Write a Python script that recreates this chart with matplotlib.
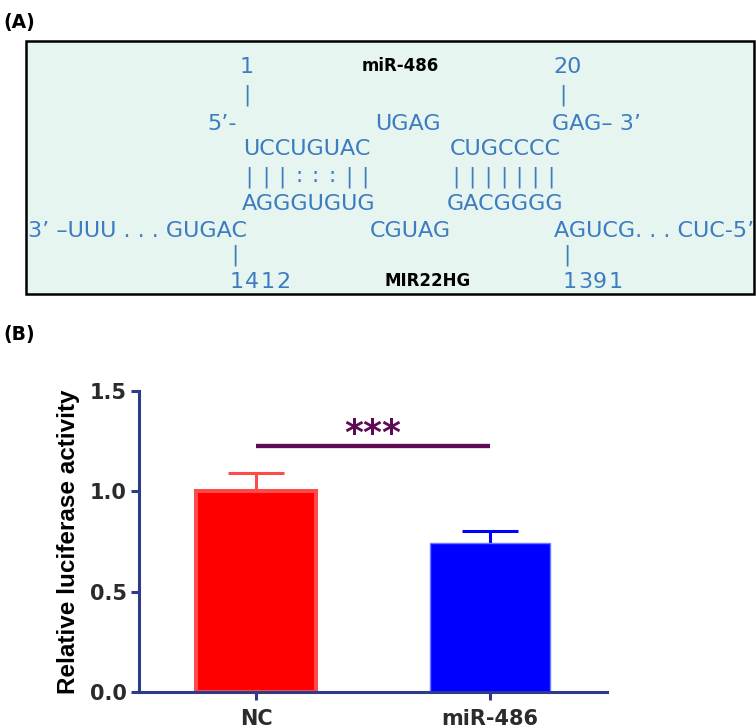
import matplotlib
matplotlib.use("Agg")
import matplotlib.pyplot as plt
from matplotlib.patches import Rectangle

# ---------------- data ----------------
categories = ["NC", "miR-486"]
values = [1.0, 0.745]
errors = [0.09, 0.055]
bar_colors = ["#ff0000", "#0000ff"]
edge_colors = ["#ff4a4a", "#6a78ff"]
yticks = [0.0, 0.5, 1.0, 1.5]
ytick_labels = ["0.0", "0.5", "1.0", "1.5"]
ylabel = "Relative luciferase activity"
sig_label = "***"
sig_y = 1.225

# panel A texts: (text, x_center_px, y_center_px)
mirna_top = [("1", 247, 65), ("20", 567.5, 65),
             ("5\u2019-", 222.5, 122), ("UGAG", 408, 122), ("GAG\u2013 3\u2019", 596, 122),
             ("UCCUGUAC", 307, 147), ("CUGCCCC", 505.5, 147),
             ("AGGGUGUG", 308.5, 202), ("GACGGGG", 505, 202),
             ("3\u2019 \u2013UUU . . . GUGAC", 137.5, 229), ("CGUAG", 410, 229),
             ("AGUCG. . . CUC-5\u2019", 654, 229)]
# spaced digit labels: (text, left_px, step_px, y_center_px)
spaced = [("1412", 229, 15.5, 280), ("1391", 562, 15.25, 280)]
black_labels = [("miR-486", 400.5, 65), ("MIR22HG", 427.5, 280)]
connectors = [(247, 94), (563, 94), (235, 255), (567, 255)]
pairs1 = "|||:::||"
pairs2 = "|||||||"

W, H = 756, 728
fig = plt.figure(figsize=(W / 100, H / 100), dpi=100)

blue = "#3d7cc0"
# ---------------- panel A ----------------
axA = fig.add_axes([0, 0, 1, 1])
axA.set_xlim(0, W)
axA.set_ylim(H, 0)
axA.axis("off")
axA.add_patch(Rectangle((26, 41), 728, 253, facecolor="#e6f5f0",
                        edgecolor="black", linewidth=1.8))
for t, x, y in mirna_top:
    axA.text(x, y + 8, t, ha="center", va="baseline", fontsize=16,
             color=blue, family="DejaVu Sans")
for t, x0, step, y in spaced:
    for i, ch in enumerate(t):
        axA.text(x0 + step * (i + 0.5), y + 8, ch, ha="center", va="baseline",
                 fontsize=16, color=blue, family="DejaVu Sans")
for t, x, y in black_labels:
    axA.text(x, y + 6, t, ha="center", va="baseline", fontsize=12,
             color="black", fontweight="bold", family="DejaVu Sans")
for x, y in connectors:
    axA.text(x, y + 6, "|", ha="center", va="baseline", fontsize=15.5,
             color=blue, family="DejaVu Sans")
for i, ch in enumerate(pairs1):
    axA.text(249 + i * 16.6, 176 + 6, ch, ha="center", va="baseline",
             fontsize=15.5, color=blue, family="DejaVu Sans")
for i, ch in enumerate(pairs2):
    axA.text(456 + i * 15.8, 176 + 6, ch, ha="center", va="baseline",
             fontsize=15.5, color=blue, family="DejaVu Sans")
axA.text(3, 28, "(A)", ha="left", va="baseline", fontsize=13.5,
         fontweight="bold", family="DejaVu Sans")
axA.text(3, 340, "(B)", ha="left", va="baseline", fontsize=13.5,
         fontweight="bold", family="DejaVu Sans")

# ---------------- panel B ----------------
navy = "#2e3b8c"
ax = fig.add_axes([139 / W, 1 - 692 / H, 468 / W, 301 / H])
ax.patch.set_alpha(0)
x = list(range(len(categories)))
lws = [2.9, 1.0]
for i in x:
    ax.bar(i, values[i], width=0.51, color=bar_colors[i],
           edgecolor=edge_colors[i], linewidth=lws[i], zorder=2)
    ecol = edge_colors[i] if i == 0 else bar_colors[i]
    ax.errorbar(i, values[i], yerr=[[0.02], [errors[i]]], fmt="none",
                ecolor=ecol, elinewidth=2.2, capsize=20.5, capthick=2.2,
                zorder=1)

ax.plot([0, 1], [sig_y, sig_y], color="#5e0a55", linewidth=3.1,
        solid_capstyle="butt")
ax.text(0.5, 1.285, sig_label, ha="center", va="center", fontsize=26,
        fontweight="bold", color="#5e0a55", family="DejaVu Sans")

ax.set_xlim(-0.5, 1.5)
ax.set_ylim(0, 1.5)
ax.set_yticks(yticks)
ax.set_yticklabels(ytick_labels)
ax.set_xticks(x)
ax.set_xticklabels(categories)
for s in ["top", "right"]:
    ax.spines[s].set_visible(False)
for s in ["left", "bottom"]:
    ax.spines[s].set_color(navy)
    ax.spines[s].set_linewidth(2.2)
    ax.spines[s].set_zorder(3)
ax.tick_params(axis="both", colors=navy, width=2.2, length=5.8,
               labelcolor="#2b2b2b")
ax.tick_params(axis="y", pad=3)
ax.tick_params(axis="x", pad=6.5)
for lab in ax.get_yticklabels() + ax.get_xticklabels():
    lab.set_fontweight("bold")
    lab.set_fontsize(15)
    lab.set_family("DejaVu Sans")
ax.set_ylabel(ylabel, fontsize=17.5, fontweight="bold", color="black",
              family="Liberation Sans")
ax.yaxis.set_label_coords(-0.126, 0.5)

fig.savefig("out.png", dpi=100)
